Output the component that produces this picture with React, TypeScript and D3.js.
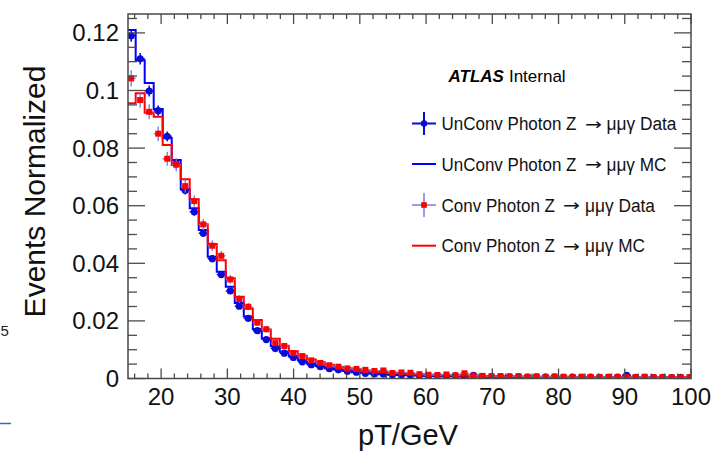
import React from "react";
import * as d3 from "d3";

// Histogram binning (GeV)
const binStart = 14.8;
const binWidth = 1.36;

// UnConv photon data (normalized)
const unconvData = [
  0.119, 0.111, 0.0998, 0.093, 0.0841, 0.0745, 0.0654, 0.0579, 0.0504, 0.0416,
  0.0361, 0.0304, 0.0251, 0.0209, 0.0166, 0.0135, 0.0104, 0.0088, 0.0073, 0.0058,
  0.0048, 0.0041, 0.0034, 0.003, 0.0025, 0.0022, 0.0018, 0.0016, 0.0015, 0.0013,
  0.0012, 0.0011, 0.001, 0.0009, 0.001, 0.0008, 0.0009, 0.0007, 0.0011, 0.0007,
  0.0006, 0.0007, 0.0006, 0.0006, 0.0005, 0.0006, 0.0005, 0.0005, 0.0004, 0.0005,
  0.0004, 0.0005, 0.0004, 0.0004, 0.0005, 0.0011, 0.0004, 0.0004, 0.0003, 0.0004,
  0.0003, 0.0004, 0.0003,
];
const unconvErr = [
  0.0021, 0.002, 0.0019, 0.0018, 0.0017, 0.0016, 0.0015, 0.0014, 0.0013, 0.0012,
  0.0011, 0.001, 0.0009, 0.0008, 0.0007, 0.0007, 0.0006, 0.0006, 0.0005, 0.0005,
  0.0004, 0.0004, 0.0004, 0.0003, 0.0003, 0.0003, 0.0003, 0.0003, 0.0002, 0.0002,
  0.0002, 0.0002, 0.0002, 0.0002, 0.0002, 0.0002, 0.0002, 0.0002, 0.0002, 0.0002,
  0.0002, 0.0002, 0.0002, 0.0002, 0.0002, 0.0002, 0.0002, 0.0002, 0.0002, 0.0002,
  0.0002, 0.0002, 0.0002, 0.0002, 0.0002, 0.0002, 0.0002, 0.0002, 0.0002, 0.0002,
  0.0002, 0.0002, 0.0002,
];
// UnConv photon MC
const unconvMC = [
  0.121, 0.1105, 0.1026, 0.0936, 0.0835, 0.0759, 0.0657, 0.0591, 0.0516, 0.0423,
  0.0371, 0.0319, 0.0262, 0.0215, 0.0172, 0.0139, 0.0112, 0.0093, 0.0077, 0.0063,
  0.0052, 0.0043, 0.0036, 0.0031, 0.0026, 0.0022, 0.0019, 0.0017, 0.0015, 0.0013,
  0.0012, 0.0011, 0.001, 0.0009, 0.0009, 0.0008, 0.0008, 0.0007, 0.0007, 0.0007,
  0.0006, 0.0006, 0.0006, 0.0005, 0.0005, 0.0005, 0.0005, 0.0005, 0.0004, 0.0004,
  0.0004, 0.0004, 0.0004, 0.0004, 0.0004, 0.0003, 0.0003, 0.0003, 0.0003, 0.0003,
  0.0003, 0.0003, 0.0003,
];
// Conv photon data
const convData = [
  0.1042, 0.0967, 0.0926, 0.085, 0.0763, 0.0743, 0.0668, 0.0616, 0.0535, 0.0461,
  0.0426, 0.0344, 0.0276, 0.0249, 0.0194, 0.0171, 0.0123, 0.0113, 0.0088, 0.0078,
  0.0063, 0.0054, 0.0046, 0.0041, 0.0035, 0.0033, 0.003, 0.0026, 0.0028, 0.0019,
  0.0021, 0.002, 0.0015, 0.0013, 0.0012, 0.0014, 0.0011, 0.0018, 0.001, 0.0009,
  0.0008, 0.0008, 0.0007, 0.0008, 0.0006, 0.0007, 0.0006, 0.0007, 0.0006, 0.0005,
  0.0006, 0.0005, 0.0005, 0.0006, 0.0005, 0.0004, 0.0005, 0.0006, 0.0004, 0.0005,
  0.0004, 0.0004, 0.0005,
];
const convErr = [
  0.0028, 0.0027, 0.0026, 0.0025, 0.0024, 0.0023, 0.0022, 0.002, 0.0019, 0.0018,
  0.0017, 0.0015, 0.0014, 0.0013, 0.0012, 0.0011, 0.001, 0.0009, 0.0008, 0.0008,
  0.0007, 0.0007, 0.0006, 0.0006, 0.0005, 0.0005, 0.0005, 0.0005, 0.0005, 0.0004,
  0.0004, 0.0004, 0.0004, 0.0003, 0.0003, 0.0003, 0.0003, 0.0003, 0.0003, 0.0003,
  0.0003, 0.0003, 0.0003, 0.0003, 0.0003, 0.0003, 0.0003, 0.0003, 0.0003, 0.0003,
  0.0003, 0.0003, 0.0003, 0.0003, 0.0003, 0.0003, 0.0003, 0.0003, 0.0003, 0.0003,
  0.0003, 0.0003, 0.0003,
];
// Conv photon MC
const convMC = [
  0.0956, 0.099, 0.0923, 0.0909, 0.0811, 0.0741, 0.0692, 0.0622, 0.0536, 0.0467,
  0.0411, 0.0348, 0.0284, 0.0243, 0.0203, 0.017, 0.0138, 0.0114, 0.0095, 0.0079,
  0.0066, 0.0056, 0.0048, 0.0041, 0.0036, 0.0032, 0.0028, 0.0025, 0.0022, 0.002,
  0.0018, 0.0016, 0.0015, 0.0013, 0.0012, 0.0011, 0.0011, 0.001, 0.0009, 0.0009,
  0.0008, 0.0008, 0.0007, 0.0007, 0.0007, 0.0006, 0.0006, 0.0006, 0.0006, 0.0005,
  0.0005, 0.0005, 0.0005, 0.0005, 0.0005, 0.0004, 0.0004, 0.0004, 0.0004, 0.0004,
  0.0004, 0.0004, 0.0004,
];

const xMajor = [20, 30, 40, 50, 60, 70, 80, 90, 100];
const xMinorStep = 2;
const yMajor = [0, 0.02, 0.04, 0.06, 0.08, 0.1, 0.12];
const yMajorLabels = ["0", "0.02", "0.04", "0.06", "0.08", "0.1", "0.12"];
const yMinorStep = 0.005;

const legendItems = [
  { pre: "UnConv Photon Z", post: "\u03bc\u03bc\u03b3 Data", kind: "udata" },
  { pre: "UnConv Photon Z", post: "\u03bc\u03bc\u03b3 MC", kind: "umc" },
  { pre: "Conv Photon Z", post: "\u03bc\u03bc\u03b3 Data", kind: "cdata" },
  { pre: "Conv Photon Z", post: "\u03bc\u03bc\u03b3 MC", kind: "cmc" },
];
const ARROW = "\u2192";

const FONT = "'Liberation Sans', Arial, Helvetica, sans-serif";
const BLUE = "#0000ff";
const BLUE_DATA = "#0a0ad8";
const RED = "#ff0000";
const PURPLE = "#7878e0";
const FRAME = "#4a4a4a";

export default function App() {
  const L = 128, R = 691, T = 14, B = 378.5;
  const x = d3.scaleLinear().domain([15, 100]).range([L, R]);
  const y = d3.scaleLinear().domain([0, 0.12656]).range([B, T]);

  const stepPath = (vals: number[]) => {
    const pts: [number, number][] = vals.map((v, i) => [binStart + i * binWidth, v]);
    pts.push([binStart + vals.length * binWidth, vals[vals.length - 1]]);
    return (
      d3
        .line<[number, number]>()
        .x((d) => x(d[0]))
        .y((d) => y(d[1]))
        .curve(d3.curveStepAfter)(pts) || ""
    );
  };

  const center = (i: number) => binStart + (i + 0.5) * binWidth;

  const xMinor = d3.range(16, 100.01, xMinorStep).filter((v) => v % 10 !== 0);
  const yMinor = d3.range(0, 0.1266, yMinorStep).filter(
    (v) => Math.abs(v / 0.02 - Math.round(v / 0.02)) > 1e-6
  );

  const errBars = (vals: number[], errs: number[], color: string, w: number) =>
    vals.map((v, i) => {
      const cx = x(center(i));
      const x0 = x(binStart + i * binWidth);
      const x1 = x(binStart + (i + 1) * binWidth);
      return (
        <g key={i} stroke={color} strokeWidth={w}>
          <line x1={cx} x2={cx} y1={y(v - errs[i])} y2={y(v + errs[i])} />
          <line x1={x0} x2={x1} y1={y(v)} y2={y(v)} />
        </g>
      );
    });

  const legendY = [123.5, 164, 205, 245.7];
  const legendBaseline = [130, 170.5, 211.7, 252.3];
  const lx0 = 412, lx1 = 436, lcx = 424;

  return (
    <svg
      width={718}
      height={462}
      style={{ position: "absolute", left: 0, top: 0, background: "#fff" }}
      fontFamily={FONT}
    >
      <defs>
        <clipPath id="plotClip">
          <rect x={L} y={T} width={R - L} height={B - T} />
        </clipPath>
      </defs>
      <rect width={718} height={462} fill="#fff" />

      {/* stray fragments at left edge */}
      <text x={0.5} y={336} fontSize={15} fill="#222">5</text>
      <line x1={0} x2={11} y1={423.5} y2={423.5} stroke="#3a64c8" strokeWidth={1.5} />

      {/* histograms */}
      <g clipPath="url(#plotClip)" fill="none">
        <path d={stepPath(unconvMC)} stroke={BLUE} strokeWidth={2} />
        <g>{errBars(unconvData, unconvErr, BLUE_DATA, 1.5)}</g>
        {unconvData.map((v, i) => (
          <circle key={i} cx={x(center(i))} cy={y(v)} r={3.6} fill={BLUE_DATA} />
        ))}
        <path d={stepPath(convMC)} stroke={RED} strokeWidth={2} />
        <g>{errBars(convData, convErr, PURPLE, 1.3)}</g>
        {convData.map((v, i) => (
          <rect
            key={i}
            x={x(center(i)) - 3}
            y={y(v) - 3}
            width={6}
            height={6}
            fill={RED}
          />
        ))}
      </g>

      {/* frame */}
      <rect x={L} y={T} width={R - L} height={B - T} fill="none" stroke={FRAME} strokeWidth={1.5} />

      {/* ticks */}
      <g stroke={FRAME} strokeWidth={1.3}>
        {xMajor.map((v) => (
          <g key={"xM" + v}>
            <line x1={x(v)} x2={x(v)} y1={B} y2={B - 10} />
            <line x1={x(v)} x2={x(v)} y1={T} y2={T + 10} />
          </g>
        ))}
        {xMinor.map((v) => (
          <g key={"xm" + v}>
            <line x1={x(v)} x2={x(v)} y1={B} y2={B - 5} />
            <line x1={x(v)} x2={x(v)} y1={T} y2={T + 5} />
          </g>
        ))}
        {yMajor.map((v) => (
          <g key={"yM" + v}>
            <line x1={L} x2={L + 17} y1={y(v)} y2={y(v)} />
            <line x1={R} x2={R - 17} y1={y(v)} y2={y(v)} />
          </g>
        ))}
        {yMinor.map((v) => (
          <g key={"ym" + v}>
            <line x1={L} x2={L + 9} y1={y(v)} y2={y(v)} />
            <line x1={R} x2={R - 9} y1={y(v)} y2={y(v)} />
          </g>
        ))}
      </g>

      {/* tick labels */}
      <g fontSize={24} fill="#111">
        {xMajor.map((v) => (
          <text key={"xl" + v} x={x(v)} y={405} textAnchor="middle">
            {v}
          </text>
        ))}
        {yMajor.map((v, i) => (
          <text key={"yl" + v} x={119} y={y(v) + 8.6} textAnchor="end">
            {yMajorLabels[i]}
          </text>
        ))}
      </g>

      {/* axis titles */}
      <text x={408} y={445} fontSize={29} textAnchor="middle" fill="#111">
        pT/GeV
      </text>
      <text
        transform="translate(45,191.5) rotate(-90)"
        fontSize={30}
        textAnchor="middle"
        fill="#111"
      >
        Events Normalized
      </text>

      {/* ATLAS label */}
      <text x={448.5} y={81.7} fontSize={17} fill="#000">
        <tspan fontWeight="bold" fontStyle="italic">ATLAS</tspan>
        <tspan dx={5}>Internal</tspan>
      </text>

      {/* legend */}
      {legendItems.map((it, i) => {
        const cy = legendY[i];
        const isU = it.kind === "udata" || it.kind === "umc";
        const preW = isU ? 135 : 113.5;
        const arrowX = isU ? 585 : 563;
        const postX = isU ? 606.5 : 585;
        const postW = it.post.endsWith("Data") ? 70 : 60;
        return (
          <g key={it.kind}>
            {it.kind === "udata" && (
              <g>
                <line x1={lx0} x2={lx1} y1={cy} y2={cy} stroke={BLUE_DATA} strokeWidth={2} />
                <line x1={lcx} x2={lcx} y1={cy - 11.5} y2={cy + 11.5} stroke={BLUE_DATA} strokeWidth={2} />
                <circle cx={lcx} cy={cy} r={3.2} fill={BLUE_DATA} />
              </g>
            )}
            {it.kind === "umc" && (
              <line x1={lx0} x2={lx1} y1={cy} y2={cy} stroke={BLUE} strokeWidth={2} />
            )}
            {it.kind === "cdata" && (
              <g>
                <line x1={lx0} x2={lx1} y1={cy} y2={cy} stroke={PURPLE} strokeWidth={1.5} />
                <line x1={lcx} x2={lcx} y1={cy - 12} y2={cy + 12} stroke={PURPLE} strokeWidth={1.5} />
                <rect x={lcx - 2.8} y={cy - 2.8} width={5.6} height={5.6} fill={RED} />
              </g>
            )}
            {it.kind === "cmc" && (
              <line x1={lx0} x2={lx1} y1={cy} y2={cy} stroke={RED} strokeWidth={2} />
            )}
            <g fontSize={18} fill="#111">
              <text x={441.5} y={legendBaseline[i]} textLength={preW} lengthAdjust="spacingAndGlyphs">
                {it.pre}
              </text>
              <text
                x={arrowX}
                y={legendBaseline[i] - 0.5}
                fontFamily="'DejaVu Sans', sans-serif"
                fontSize={16}
                textLength={17}
                lengthAdjust="spacingAndGlyphs"
              >
                {ARROW}
              </text>
              <text x={postX} y={legendBaseline[i]} textLength={postW} lengthAdjust="spacingAndGlyphs">
                {it.post}
              </text>
            </g>
          </g>
        );
      })}
    </svg>
  );
}
